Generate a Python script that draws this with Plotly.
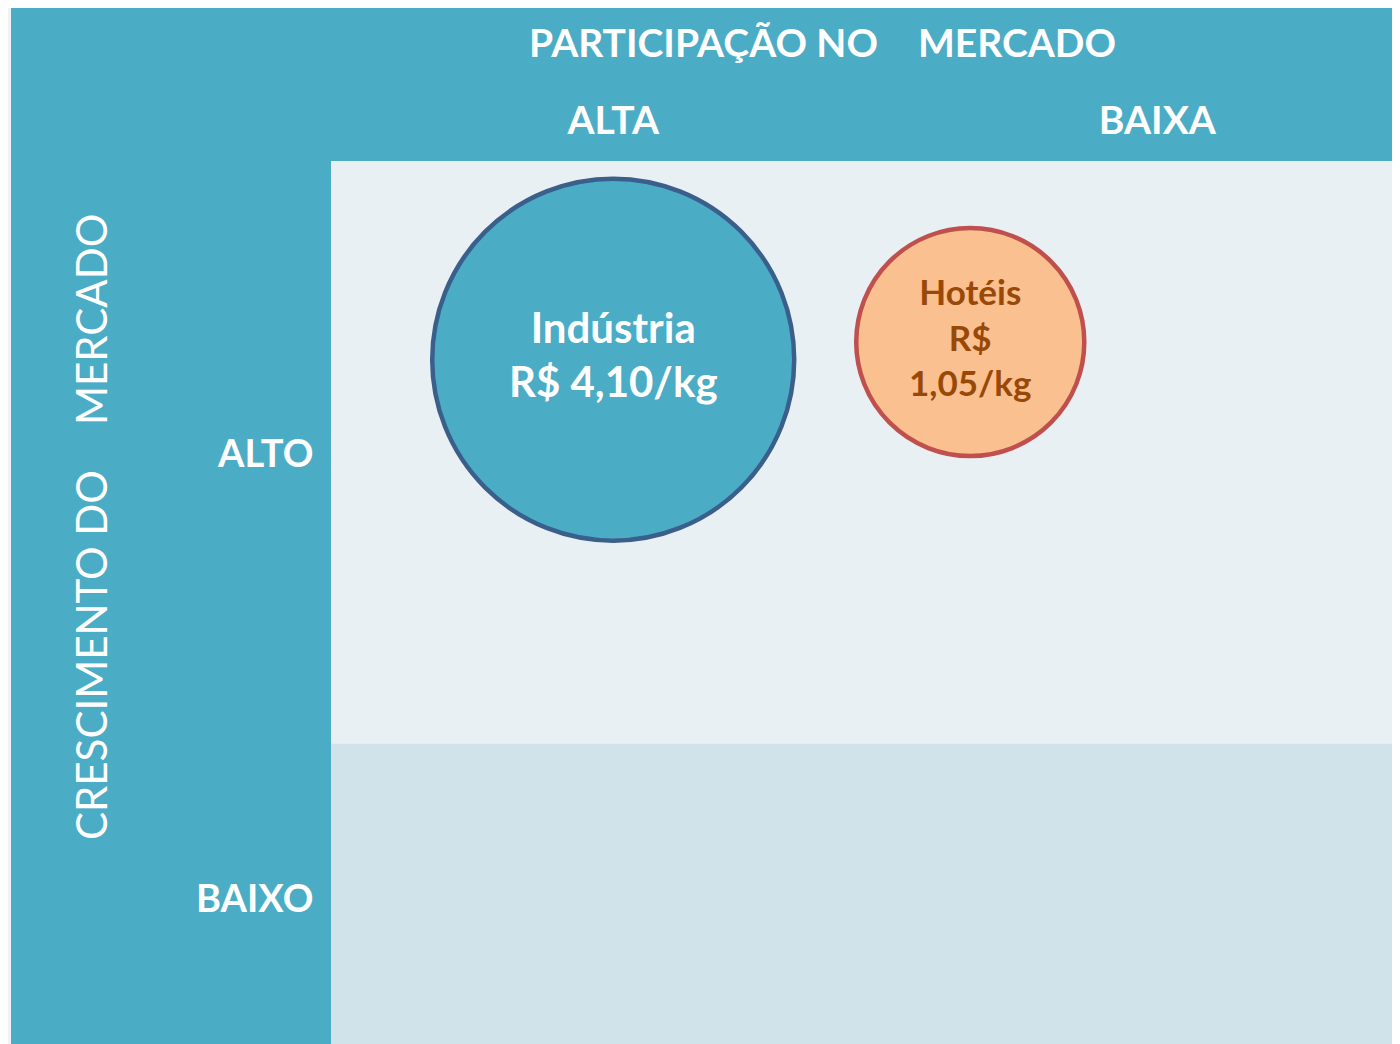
import plotly.graph_objects as go

# Dados da matriz BCG
segmentos = ["Indústria", "Hotéis"]
precos = ["R$ 4,10/kg", "R$<br>1,05/kg"]
participacao = [0.264, 0.598]   # eixo x: participação no mercado (0 = alta, 1 = baixa)
crescimento = [0.775, 0.795]    # eixo y: crescimento do mercado (1 = alto, 0 = baixo)
volume = [100, 63]              # tamanho relativo das bolhas

x_ticks = [0.264, 0.773]
x_labels = ["ALTA", "BAIXA"]
y_ticks = [0.669, 0.165]
y_labels = ["ALTO", "BAIXO"]
limite_baixo = 0.34

TEAL = "#4BACC6"
FUNDO_ALTO = "#E8F0F4"
FUNDO_BAIXO = "#D0E3EA"
CINZA = "#F2F2F2"
FONTE = "Lato"

fill_colors = [TEAL, "#FAC090"]
line_colors = ["#3A5F8B", "#C0504D"]
text_colors = ["#FFFFFF", "#984807"]
text_sizes = [42, 35]

fig = go.Figure()

for i, seg in enumerate(segmentos):
    fig.add_trace(go.Scatter(
        x=[participacao[i]],
        y=[crescimento[i]],
        mode="markers+text",
        text=[f"<b>{seg}<br>{precos[i]}</b>"],
        textposition="middle center",
        textfont=dict(family=FONTE, size=text_sizes[i], color=text_colors[i]),
        marker=dict(
            size=[volume[i]],
            sizemode="diameter",
            sizeref=max(volume) / 362,
            color=fill_colors[i],
            line=dict(color=line_colors[i], width=4.5),
            opacity=1,
        ),
        showlegend=False,
        hoverinfo="skip",
    ))

# a página tem 8px de margem no body
OFF = 8
W, H = 1400 - OFF, 1044 - OFF
ML, MT = 331 - OFF, 161 - OFF
pw, ph = W - ML, H - MT


def px_x(x):
    return (x - OFF - ML) / pw


def px_y(y):
    return (H - (y - OFF)) / ph


shapes = [
    # faixa de crescimento baixo
    dict(type="rect", xref="x", yref="y", x0=0, x1=1, y0=0, y1=limite_baixo,
         fillcolor=FUNDO_BAIXO, line_width=0, layer="below"),
    # borda cinza à esquerda
    dict(type="rect", xref="paper", yref="paper", x0=-ML / pw, x1=px_x(11),
         y0=0, y1=1 + MT / ph, fillcolor=CINZA, line_width=0, layer="below"),
]

titulo = dict(family=FONTE, size=39, color="white")
lateral = dict(family=FONTE, size=42, color="white")
annotations = [
    dict(text="<b>PARTICIPAÇÃO NO</b>", x=px_x(703), y=px_y(42), font=titulo),
    dict(text="<b>MERCADO</b>", x=px_x(1017), y=px_y(42), font=titulo),
    dict(text="CRESCIMENTO DO", x=px_x(91), y=px_y(655), textangle=-90, font=lateral),
    dict(text="MERCADO", x=px_x(91), y=px_y(320), textangle=-90, font=lateral),
]
for a in annotations:
    a.update(xref="paper", yref="paper", showarrow=False, xanchor="center", yanchor="middle")

fig.update_layout(
    width=W,
    height=H,
    margin=dict(l=ML, r=0, t=MT, b=0),
    paper_bgcolor=TEAL,
    plot_bgcolor=FUNDO_ALTO,
    shapes=shapes,
    annotations=annotations,
    xaxis=dict(
        range=[0, 1], side="top", showgrid=False, zeroline=False, showline=False,
        tickvals=x_ticks, ticktext=[f"<b>{t}</b>" for t in x_labels],
        ticks="outside", ticklen=10, tickcolor=TEAL,
        tickfont=dict(family=FONTE, size=39, color="white"),
    ),
    yaxis=dict(
        range=[0, 1], showgrid=False, zeroline=False, showline=False,
        tickvals=y_ticks, ticktext=[f"<b>{t}</b>" for t in y_labels],
        ticks="outside", ticklen=9, tickcolor=TEAL,
        tickfont=dict(family=FONTE, size=38, color="white"),
    ),
)

fig.write_html("out.html")
